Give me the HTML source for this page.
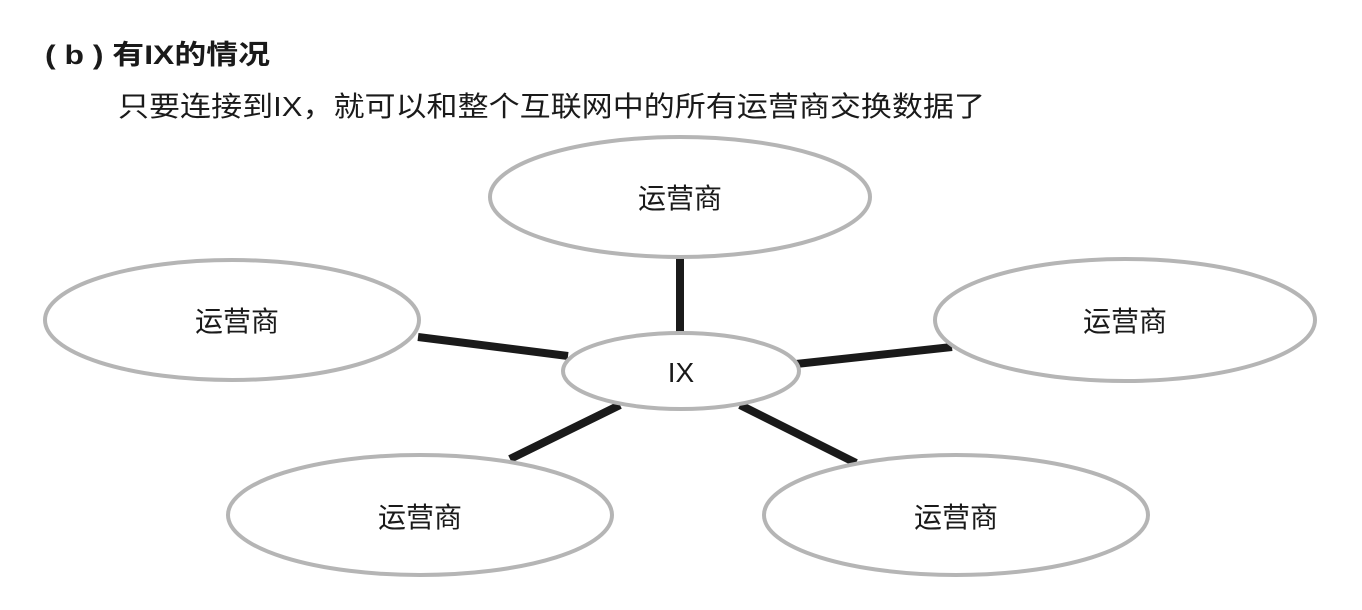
<!DOCTYPE html>
<html><head><meta charset="utf-8"><style>
html,body{margin:0;padding:0;background:#fff;}
svg{display:block}
text{font-family:"Liberation Sans","Noto Sans CJK SC",sans-serif;fill:#1a1a1a}
</style></head><body>
<svg width="1362" height="610" viewBox="0 0 1362 610">
<text x="45" y="64" font-size="27" font-weight="bold" textLength="225" lengthAdjust="spacingAndGlyphs">( b ) 有IX的情况</text>
<text x="118" y="116" font-size="28" textLength="867" lengthAdjust="spacingAndGlyphs">只要连接到IX，就可以和整个互联网中的所有运营商交换数据了</text>
<g stroke="#1a1a1a" stroke-width="8">
<line x1="680" y1="258" x2="680" y2="334"/>
<line x1="418" y1="337" x2="568" y2="356"/>
<line x1="796" y1="364" x2="952" y2="347"/>
<line x1="510" y1="459" x2="620" y2="405"/>
<line x1="740" y1="405" x2="856" y2="463"/>
</g>
<g fill="#fff" stroke="#b5b5b5" stroke-width="4">
<ellipse cx="680" cy="197" rx="190" ry="60"/>
<ellipse cx="232" cy="320" rx="187" ry="60"/>
<ellipse cx="1125" cy="320" rx="190" ry="61"/>
<ellipse cx="420" cy="515" rx="192" ry="60"/>
<ellipse cx="956" cy="515" rx="192" ry="60"/>
<ellipse cx="681" cy="371" rx="118" ry="38"/>
</g>
<g font-size="28" text-anchor="middle">
<text x="680" y="208">运营商</text>
<text x="237" y="331">运营商</text>
<text x="1125" y="331">运营商</text>
<text x="420" y="527">运营商</text>
<text x="956" y="527">运营商</text>
<text x="681" y="382">IX</text>
</g>
</svg>
</body></html>
